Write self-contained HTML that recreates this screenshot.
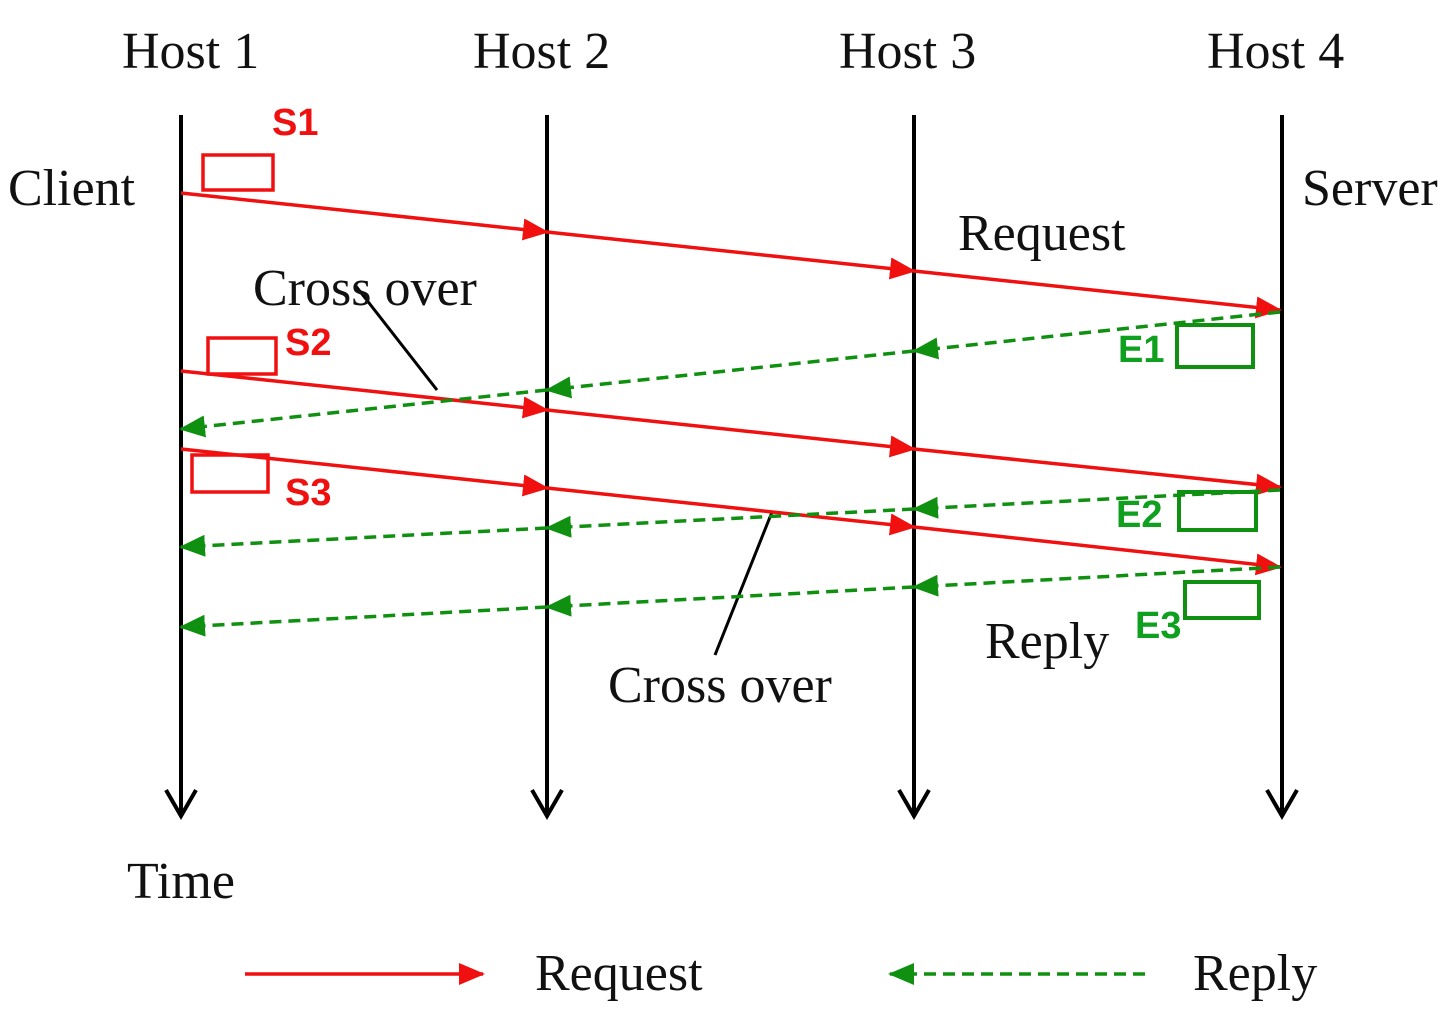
<!DOCTYPE html>
<html><head><style>
html,body{margin:0;padding:0;background:#fff;}
svg{display:block}
.t{font-family:"Liberation Serif",serif;font-size:52px;fill:#111}
.s{font-family:"Liberation Sans",sans-serif;font-weight:bold;font-size:38px}
</style></head><body>
<svg width="1455" height="1031" viewBox="0 0 1455 1031" xmlns="http://www.w3.org/2000/svg">
<defs>
<marker id="ra" markerWidth="26" markerHeight="22" refX="24" refY="11" orient="auto" markerUnits="userSpaceOnUse" viewBox="0 0 26 22"><path d="M0,0 L26,11 L0,22 z" fill="#f01010"/></marker>
<marker id="ga" markerWidth="26" markerHeight="22" refX="24" refY="11" orient="auto" markerUnits="userSpaceOnUse" viewBox="0 0 26 22"><path d="M0,0 L26,11 L0,22 z" fill="#109010"/></marker>
</defs>
<g stroke="#000" stroke-width="4" fill="none">
<line x1="181" y1="115" x2="181" y2="815"/><polyline points="166,790 181,816 196,790"/>
<line x1="547" y1="115" x2="547" y2="815"/><polyline points="532,790 547,816 562,790"/>
<line x1="914" y1="115" x2="914" y2="815"/><polyline points="899,790 914,816 929,790"/>
<line x1="1282" y1="115" x2="1282" y2="815"/><polyline points="1267,790 1282,816 1297,790"/>
<line x1="355" y1="285" x2="437" y2="390" stroke-width="3"/>
<line x1="772" y1="512" x2="715" y2="655" stroke-width="3"/>
</g>
<g stroke="#f01010" stroke-width="3.5" fill="none">
<path d="M181,193 L547,232" marker-end="url(#ra)"/><path d="M547,232 L914,271" marker-end="url(#ra)"/><path d="M914,271 L1280,310" marker-end="url(#ra)"/>
<path d="M181,371 L547,410" marker-end="url(#ra)"/><path d="M547,410 L914,449" marker-end="url(#ra)"/><path d="M914,449 L1280,487" marker-end="url(#ra)"/>
<path d="M181,449 L547,488" marker-end="url(#ra)"/><path d="M547,488 L914,527" marker-end="url(#ra)"/><path d="M914,527 L1280,567" marker-end="url(#ra)"/>
<path d="M245,974 L483,974" marker-end="url(#ra)"/>
<rect x="203" y="155" width="70" height="35"/>
<rect x="208" y="338" width="68" height="36"/>
<rect x="192" y="455" width="76" height="37"/>
</g>
<g stroke="#109010" stroke-width="3.5" fill="none" stroke-dasharray="12,7">
<path d="M1280,312 L914,351" marker-end="url(#ga)"/><path d="M914,351 L547,390" marker-end="url(#ga)"/><path d="M547,390 L181,429" marker-end="url(#ga)"/>
<path d="M1280,490 L914,509" marker-end="url(#ga)"/><path d="M914,509 L547,528" marker-end="url(#ga)"/><path d="M547,528 L181,547" marker-end="url(#ga)"/>
<path d="M1280,567 L914,587" marker-end="url(#ga)"/><path d="M914,587 L547,607" marker-end="url(#ga)"/><path d="M547,607 L181,627" marker-end="url(#ga)"/>
<path d="M1145,974 L890,974" marker-end="url(#ga)"/>
</g>
<g stroke="#109010" stroke-width="4" fill="none">
<rect x="1177" y="325" width="76" height="42"/>
<rect x="1179" y="492" width="77" height="38"/>
<rect x="1185" y="582" width="74" height="36"/>
</g>
<g class="t">
<text x="122" y="68">Host 1</text>
<text x="473" y="68">Host 2</text>
<text x="839" y="68">Host 3</text>
<text x="1207" y="68">Host 4</text>
<text x="8" y="205">Client</text>
<text x="1302" y="205">Server</text>
<text x="958" y="250">Request</text>
<text x="253" y="305">Cross over</text>
<text x="608" y="702">Cross over</text>
<text x="985" y="658">Reply</text>
<text x="127" y="898">Time</text>
<text x="535" y="990">Request</text>
<text x="1193" y="990">Reply</text>
</g>
<g class="s" fill="#f01010">
<text x="272" y="135">S1</text>
<text x="285" y="355">S2</text>
<text x="285" y="505">S3</text>
</g>
<g class="s" fill="#10a020">
<text x="1118" y="362">E1</text>
<text x="1116" y="527">E2</text>
<text x="1135" y="638">E3</text>
</g>
</svg>
</body></html>
